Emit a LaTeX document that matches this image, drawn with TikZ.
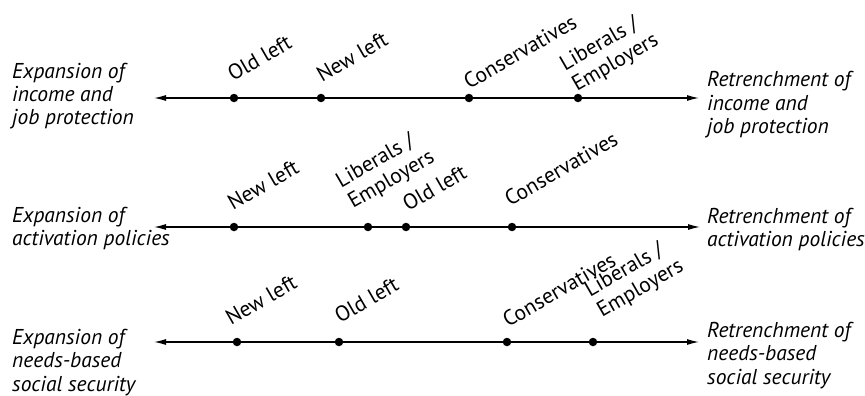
\documentclass[tikz,border=0pt]{standalone}
\usepackage{fontspec}
\setmainfont{PT Sans}
\usetikzlibrary{arrows.meta}
\begin{document}
\begin{tikzpicture}[x=1pt,y=-1pt,
  axis/.style={line width=1.2pt,{Latex[length=12pt,width=6pt]}-{Latex[length=12pt,width=6pt]}},
  dot/.style={circle,fill=black,inner sep=0pt,minimum size=8.5pt},
  lab/.style={rotate=30,anchor=base west,inner sep=0pt,font=\fontsize{21.5}{24}\selectfont},
  side/.style={anchor=base west,inner sep=0pt,font=\fontsize{21.5}{23.5}\selectfont\itshape}]
\useasboundingbox (0,0) rectangle (865,396);
\renewcommand{\arraystretch}{1}
% Row 1
\coordinate (a1) at (154,98);
\coordinate (b1) at (699,98);
\draw[axis] (a1) -- (b1);
\node[dot] (r1o) at (234,98) {};
\node[dot] (r1n) at (321,98) {};
\node[dot] (r1c) at (469,98) {};
\node[dot] (r1l) at (578,98) {};
\node[lab] (t1o) at (233,82) {Old left};
\node[lab] (t1n) at (322,83) {New left};
\node[lab] (t1c) at (469,90) {Conservatives};
\node[lab] (t1l) at (577,92) {\begin{tabular}[b]{@{}l@{}}Liberals /\\Employers\end{tabular}};
\node[side] (s1l) at (12,78) {\begin{tabular}[t]{@{}l@{}}Expansion of\\income and\\job protection\end{tabular}};
\node[side] (s1r) at (707,87) {\begin{tabular}[t]{@{}l@{}}Retrenchment of\\income and\\job protection\end{tabular}};
% Row 2
\coordinate (a2) at (154,227);
\coordinate (b2) at (700,227);
\draw[axis] (a2) -- (b2);
\node[dot] (r2n) at (234,227) {};
\node[dot] (r2l) at (368,227) {};
\node[dot] (r2o) at (406,227) {};
\node[dot] (r2c) at (512,227) {};
\node[lab] (t2n) at (233,211) {New left};
\node[lab] (t2l) at (353,209) {\begin{tabular}[b]{@{}l@{}}Liberals /\\Employers\end{tabular}};
\node[lab] (t2o) at (408,212) {Old left};
\node[lab] (t2c) at (510,207) {Conservatives};
\node[side] (s2l) at (12,222) {\begin{tabular}[t]{@{}l@{}}Expansion of\\activation policies\end{tabular}};
\node[side] (s2r) at (707,223) {\begin{tabular}[t]{@{}l@{}}Retrenchment of\\activation policies\end{tabular}};
% Row 3
\coordinate (a3) at (154,342);
\coordinate (b3) at (699,342);
\draw[axis] (a3) -- (b3);
\node[dot] (r3n) at (237,342) {};
\node[dot] (r3o) at (339,342) {};
\node[dot] (r3c) at (507,342) {};
\node[dot] (r3l) at (593,342) {};
\node[lab] (t3n) at (231,326) {New left};
\node[lab] (t3o) at (340,324) {Old left};
\node[lab] (t3c) at (508,328) {Conservatives};
\node[lab] (t3l) at (602,318) {\begin{tabular}[b]{@{}l@{}}Liberals /\\Employers\end{tabular}};
\node[side] (s3l) at (12,344) {\begin{tabular}[t]{@{}l@{}}Expansion of\\needs-based\\social security\end{tabular}};
\node[side] (s3r) at (707,337) {\begin{tabular}[t]{@{}l@{}}Retrenchment of\\needs-based\\social security\end{tabular}};
\end{tikzpicture}
\end{document}
